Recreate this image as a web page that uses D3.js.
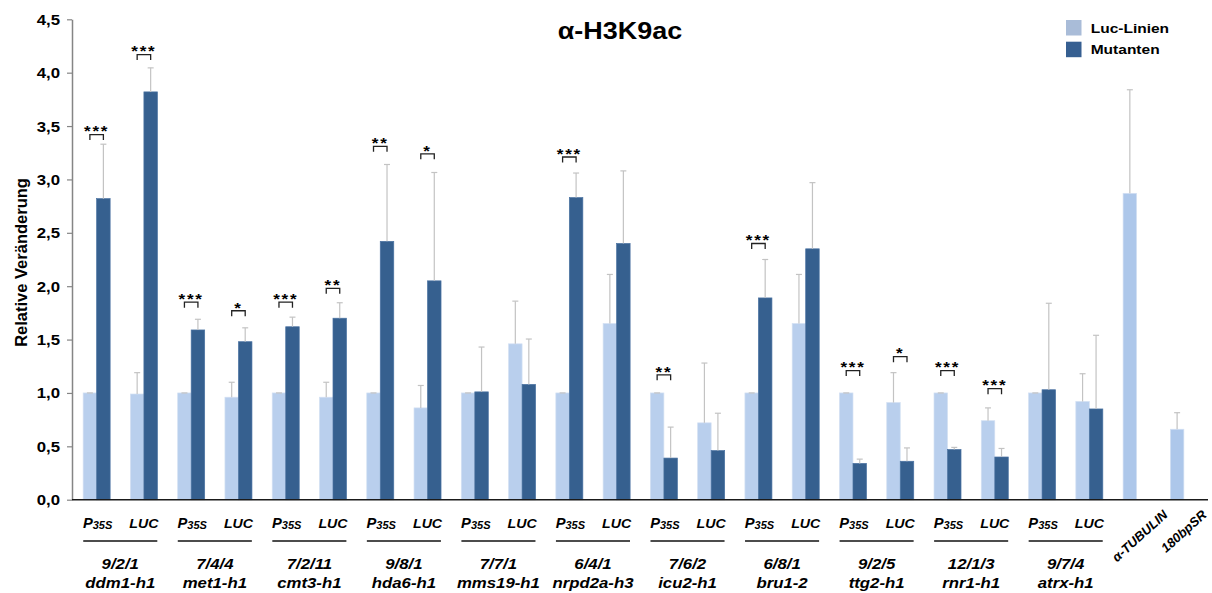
<!DOCTYPE html>
<html>
<head>
<meta charset="utf-8">
<script src="https://cdn.jsdelivr.net/npm/d3@7"></script>
<style>
  body { margin: 0; background: #fff; }
  svg { display: block; }
  text { font-family: "Liberation Sans", Arial, sans-serif; font-weight: bold; fill: #000; }
</style>
</head>
<body>
<svg id="chart" width="1212" height="593"></svg>
<script>
// Line identifiers and mutant names, one entry per P35S/LUC pair
const lineIds = ["9/2/1", "7/4/4", "7/2/11", "9/8/1", "7/7/1", "6/4/1", "7/6/2", "6/8/1", "9/2/5", "12/1/3", "9/7/4"];
const genes = ["ddm1-h1", "met1-h1", "cmt3-h1", "hda6-h1", "mms19-h1", "nrpd2a-h3", "icu2-h1", "bru1-2", "ttg2-h1", "rnr1-h1", "atrx-h1"];
const constructs = ["P35S", "LUC"];
const controls = ["α-TUBULIN", "180bpSR"];

// Relative change per category (11 pairs x 2 constructs, then 2 controls)
const lucValues = [1.00, 0.99, 1.00, 0.96, 1.00, 0.96, 1.00, 0.86, 1.00, 1.46, 1.00, 1.65,
                   1.00, 0.72, 1.00, 1.65, 1.00, 0.91, 1.00, 0.74, 1.00, 0.92, 2.87, 0.66];
const lucErrors = [0.00, 0.20, 0.00, 0.14, 0.00, 0.14, 0.00, 0.21, 0.00, 0.40, 0.00, 0.46,
                   0.00, 0.56, 0.00, 0.46, 0.00, 0.28, 0.00, 0.12, 0.00, 0.26, 0.97, 0.155];
const mutValues = [2.82, 3.82, 1.59, 1.48, 1.62, 1.70, 2.42, 2.05, 1.01, 1.08, 2.83, 2.40,
                   0.39, 0.46, 1.89, 2.35, 0.34, 0.36, 0.47, 0.40, 1.03, 0.85, null, null];
const mutErrors = [0.51, 0.225, 0.10, 0.13, 0.09, 0.145, 0.72, 1.015, 0.42, 0.425, 0.23, 0.68,
                   0.29, 0.35, 0.36, 0.62, 0.04, 0.125, 0.02, 0.08, 0.81, 0.69, null, null];

// Significance marks and the level (top of bracket) where each is drawn
const stars = ["***", "***", "***", "*", "***", "**", "**", "*", null, null, "***", null,
               "**", null, "***", null, "***", "*", "***", "***", null, null, null, null];
const bracketLevels = [3.42, 4.17, 1.85, 1.77, 1.85, 1.98, 3.31, 3.24, null, null, 3.21, null,
                       1.17, null, 2.40, null, 1.21, 1.34, 1.21, 1.04, null, null, null, null];

const yTicks = [0, 0.5, 1, 1.5, 2, 2.5, 3, 3.5, 4, 4.5];
const legendLabels = ["Luc-Linien", "Mutanten"];
const titleText = "α-H3K9ac";
const yTitle = "Relative Veränderung";

const COL_LUC = "#b9cfed";
const COL_CTRL = "#adc7ea";
const COL_MUT = "#36608f";
const COL_ERR = "#c3c3c3";
const SX = 1.12; // horizontal glyph stretch used for labels

const svg = d3.select("#chart");
const nCat = lucValues.length;

const x = d3.scaleBand().domain(d3.range(nCat)).range([73, 1207.5]).padding(0);
const y = d3.scaleLinear().domain([0, 4.5]).range([499.7, 19.3]);
const barW = 13.5;
const center = i => x(i) + x.bandwidth() / 2;

function sText(parent, px, py, str, size, anchor = "middle", sx = SX) {
  const g = parent.append("g").attr("transform", `translate(${px},${py}) scale(${sx},1)`);
  return g.append("text").attr("text-anchor", anchor).attr("font-size", size).text(str);
}

// Y axis
const yAxis = svg.append("g")
  .attr("transform", "translate(72,0)")
  .call(d3.axisLeft(y).tickValues(yTicks).tickSize(5).tickSizeOuter(0)
    .tickFormat(d => d.toFixed(1).replace(".", ",")));
yAxis.select(".domain").attr("stroke", "#858585").attr("stroke-width", 1.5);
yAxis.selectAll(".tick line").attr("stroke", "#858585").attr("stroke-width", 1.2);
yAxis.selectAll(".tick text")
  .attr("font-size", 14).attr("font-family", null)
  .attr("x", -12 / 1.2).attr("transform", "scale(1.2,1)")
  .attr("dy", "0.36em");

// Bars: light (Luc lines) left of the category centre, dark (mutants) right of it
const idx = d3.range(nCat);
const plot = svg.append("g");

plot.selectAll("rect.luc").data(idx).join("rect")
  .attr("class", "luc")
  .attr("x", i => center(i) - barW)
  .attr("y", i => y(lucValues[i]))
  .attr("width", barW)
  .attr("height", i => y(0) - y(lucValues[i]))
  .attr("fill", i => i >= 22 ? COL_CTRL : COL_LUC)
  .attr("stroke", "#d3e0f3").attr("stroke-width", 0.7);

const mutIdx = idx.filter(i => mutValues[i] != null);
plot.selectAll("rect.mut").data(mutIdx).join("rect")
  .attr("class", "mut")
  .attr("x", i => center(i))
  .attr("y", i => y(mutValues[i]))
  .attr("width", barW)
  .attr("height", i => y(0) - y(mutValues[i]))
  .attr("fill", COL_MUT)
  .attr("stroke", "#4a72a2").attr("stroke-width", 0.7);

// Error bars (upper half only)
const errs = [];
idx.forEach(i => errs.push({ cx: center(i) - barW / 2, v: lucValues[i], e: lucErrors[i] }));
mutIdx.forEach(i => errs.push({ cx: center(i) + barW / 2, v: mutValues[i], e: mutErrors[i] }));
const eg = plot.append("g").attr("stroke", COL_ERR).attr("stroke-width", 1.2);
eg.selectAll("line.v").data(errs.filter(d => d.e > 0)).join("line")
  .attr("x1", d => d.cx).attr("x2", d => d.cx)
  .attr("y1", d => y(d.v)).attr("y2", d => y(d.v + d.e));
eg.selectAll("line.c").data(errs).join("line")
  .attr("x1", d => d.cx - 3).attr("x2", d => d.cx + 3)
  .attr("y1", d => y(d.v + d.e)).attr("y2", d => y(d.v + d.e));

// X axis line
const xAxis = svg.append("g")
  .attr("transform", `translate(0,${y(0)})`)
  .call(d3.axisBottom(x).tickSize(0).tickSizeOuter(0).tickFormat(""));
xAxis.select(".domain").attr("stroke", "#1a1a1a").attr("stroke-width", 1.6)
  .attr("d", `M72,0H1208`);

// Significance brackets and stars
const sig = svg.append("g");
idx.filter(i => stars[i]).forEach(i => {
  const x1 = center(i) - barW / 2, x2 = center(i) + barW / 2, top = y(bracketLevels[i]);
  sig.append("path")
    .attr("d", `M${x1},${top + 5.5}V${top}H${x2}V${top + 5.5}`)
    .attr("fill", "none").attr("stroke", "#222").attr("stroke-width", 1.3);
  sText(sig, center(i), top + 1.8, stars[i], 15.5, "middle", 1.1)
    .attr("letter-spacing", 1.6).attr("fill", "#222");
});

// Category labels under each pair
const labels = svg.append("g");
lineIds.forEach((id, k) => {
  const c1 = center(2 * k), c2 = center(2 * k + 1);
  const mid = (c1 + c2) / 2;
  const p = sText(labels, c1 + 1, 528, "", 14, "middle", 1.05).attr("font-style", "italic");
  p.append("tspan").text(constructs[0].charAt(0));
  p.append("tspan").attr("font-size", 10.5).attr("dy", 1).text(constructs[0].slice(1));
  sText(labels, c2, 528, constructs[1], 13.5, "middle", 1.05).attr("font-style", "italic");
  labels.append("line")
    .attr("x1", c1 - 13.4).attr("x2", c2 + 13.4)
    .attr("y1", 541).attr("y2", 541)
    .attr("stroke", "#111").attr("stroke-width", 1.3);
  sText(labels, mid, 568.5, id, 15).attr("font-style", "italic");
  sText(labels, mid, 587.5, genes[k], 15).attr("font-style", "italic");
});

// Rotated control labels
const ctrlAnchors = [[32, 516], [23.5, 516]];
controls.forEach((name, j) => {
  const i = 22 + j;
  labels.append("text")
    .attr("transform", `translate(${center(i) + ctrlAnchors[j][0]},${ctrlAnchors[j][1]}) rotate(-42)`)
    .attr("text-anchor", "end")
    .attr("font-size", 13).attr("font-style", "italic")
    .text(name);
});

// Title
sText(svg, 620, 38.5, titleText, 24.5, "middle", 1.1);

// Y axis title
svg.append("text")
  .attr("transform", "translate(26.5,262.5) rotate(-90)")
  .attr("text-anchor", "middle")
  .attr("font-size", 16.5)
  .text(yTitle);

// Legend
const legend = svg.append("g");
legendLabels.forEach((lab, j) => {
  legend.append("rect")
    .attr("x", 1066).attr("y", 20 + j * 21.7)
    .attr("width", 15.5).attr("height", 15.5)
    .attr("fill", j === 0 ? "#a9bcd8" : "#365f91");
  sText(legend, 1090.7, 32.5 + j * 21.8, lab, 13.5, "start", 1.15);
});
</script>
</body>
</html>
